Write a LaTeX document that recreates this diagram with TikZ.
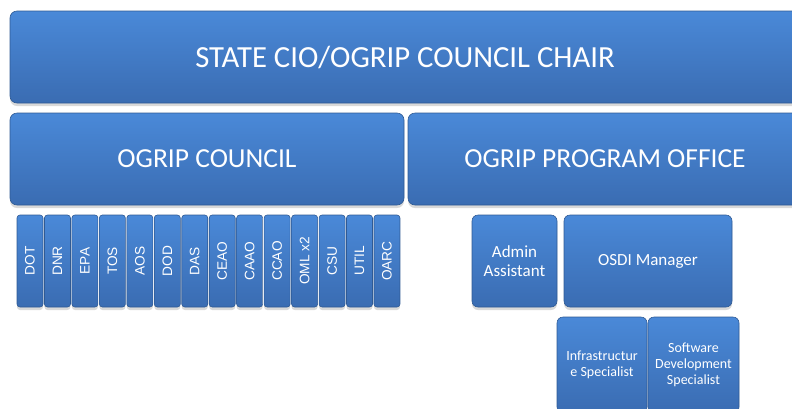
\documentclass[tikz,border=0pt]{standalone}
\usepackage{fontspec}
\setmainfont{Carlito}
\newfontfamily\agencyfont{Liberation Sans}
\usetikzlibrary{shadows}
\usetikzlibrary{positioning}

\definecolor{boxtop}{HTML}{4A89D8}
\definecolor{boxbot}{HTML}{3A6CB2}
\definecolor{boxrim}{HTML}{2F5A94}

\tikzset{
  orgbox/.style={draw=boxrim, line width=0.6pt, top color=boxtop, bottom color=boxbot,
    rounded corners=7pt, text=white, align=center, inner sep=0pt,
    drop shadow={shadow xshift=0pt, shadow yshift=-3pt, opacity=0.3}},
  agencybox/.style={orgbox, rounded corners=3pt, minimum width=26pt, minimum height=92pt,
    font=\agencyfont\fontsize{13.7}{14}\selectfont},
  staffbox/.style={orgbox, rounded corners=6pt, font=\fontsize{17}{19}\selectfont},
  specbox/.style={orgbox, rounded corners=6pt, font=\fontsize{14}{16}\selectfont},
}

\begin{document}
\begin{tikzpicture}[x=1pt, y=-1pt]
  \useasboundingbox (0,0) rectangle (792,408);

  % Chair and the two branches under it
  \node[orgbox, minimum width=790pt, minimum height=92pt, font=\fontsize{30.7}{31}\selectfont]
    (chair) at (405,57) {STATE CIO/OGRIP COUNCIL CHAIR};
  \node[orgbox, minimum width=394pt, minimum height=92pt, font=\fontsize{27.5}{28}\selectfont]
    (council) at (207,159) {OGRIP COUNCIL};
  \node[orgbox, minimum width=394pt, minimum height=92pt, font=\fontsize{27.5}{28}\selectfont]
    (office) at (605,159) {OGRIP PROGRAM OFFICE};

  % Council member agencies
  \foreach \name [count=\i from 0] in {DOT,DNR,EPA,TOS,AOS,DOD,DAS,CEAO,CAAO,CCAO,OML x2,CSU,UTIL,OARC}
    \node[agencybox] (agency\i) at (30+\i*27.46,261) {\rotatebox{90}{\name}};

  % Program office staff
  \node[staffbox, minimum width=85pt, minimum height=92pt] (admin) at (514.5,261) {Admin\\Assistant};
  \node[staffbox, minimum width=168pt, minimum height=92pt] (osdi) at (648,261) {OSDI Manager};
  \node[specbox, minimum width=90pt, minimum height=96pt] (infra) at (602,365) {Infrastructur\\e Specialist};
  \node[specbox, minimum width=91pt, minimum height=96pt] (software) at (693.5,365) {Software\\Development\\Specialist};
\end{tikzpicture}
\end{document}
